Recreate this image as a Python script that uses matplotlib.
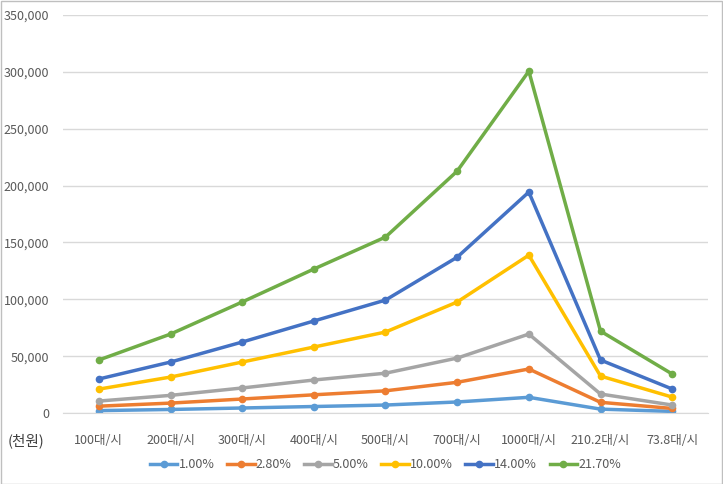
import matplotlib.pyplot as plt
from matplotlib.ticker import FuncFormatter

plt.rcParams['font.family'] = ['Noto Sans CJK KR', 'DejaVu Sans']

# =========================
# DATOS
# =========================
categories = ["100대/시", "200대/시", "300대/시", "400대/시", "500대/시",
              "700대/시", "1000대/시", "210.2대/시", "73.8대/시"]

series_names = ["1.00%", "2.80%", "5.00%", "10.00%", "14.00%", "21.70%"]

s_1_00 = [2100, 3100, 4400, 5700, 7000, 9700, 13800, 3400, 1400]
s_2_80 = [6000, 8700, 12300, 16000, 19500, 27000, 38700, 9400, 4000]
s_5_00 = [10500, 15500, 22000, 29000, 35000, 48300, 69400, 16700, 7000]
s_10_00 = [21000, 31600, 44800, 58000, 71200, 97600, 138800, 32500, 14000]
s_14_00 = [29900, 44800, 62400, 80900, 99300, 137000, 194300, 46600, 21100]
s_21_70 = [46600, 69400, 97600, 126600, 154700, 212700, 300600, 72000, 34300]

colors = ["#5B9BD5", "#ED7D31", "#A5A5A5", "#FFC000", "#4472C4", "#70AD47"]

# =========================
# GRAFICO
# =========================
fig = plt.figure(figsize=(7.23, 4.84), dpi=100)
ax = fig.add_axes([63 / 723, 1 - 413 / 484, (708 - 63) / 723, (413 - 15) / 484])

x = list(range(len(categories)))
all_series = [s_1_00, s_2_80, s_5_00, s_10_00, s_14_00, s_21_70]
for name, vals, c in zip(series_names, all_series, colors):
    ax.plot(x, vals, color=c, linewidth=2.5, marker="o", markersize=4.5, label=name)

ax.set_xlim(-0.5, len(categories) - 0.5)
ax.set_ylim(0, 350000)
ax.set_yticks(range(0, 350001, 50000))
ax.yaxis.set_major_formatter(FuncFormatter(lambda v, p: f"{int(v):,}"))
ax.set_xticks(x)
ax.set_xticklabels(categories)
ax.tick_params(axis="both", length=0, labelsize=9, colors="#595959")
ax.tick_params(axis="x", pad=15)
ax.tick_params(axis="y", pad=10)

ax.grid(axis="y", color="#D9D9D9", linewidth=1)
ax.set_axisbelow(True)
for side in ["top", "right", "left"]:
    ax.spines[side].set_visible(False)
ax.spines["bottom"].set_color("#D9D9D9")

fig.text(8 / 723, 1 - 441 / 484, "(천원)", fontsize=10.5, va="center", ha="left", color="#404040")

ax.legend(loc="center", bbox_to_anchor=(0.5, -0.13), ncol=6, frameon=False,
          fontsize=9, handlelength=2.2, columnspacing=1.0, handletextpad=0.1,
          labelcolor="#595959")

# marco
fig.patches.append(plt.Rectangle((0.001, 0.001), 0.997, 0.997, transform=fig.transFigure,
                                 fill=False, edgecolor="#BFBFBF", linewidth=1))

fig.savefig("out.png", dpi=100)
